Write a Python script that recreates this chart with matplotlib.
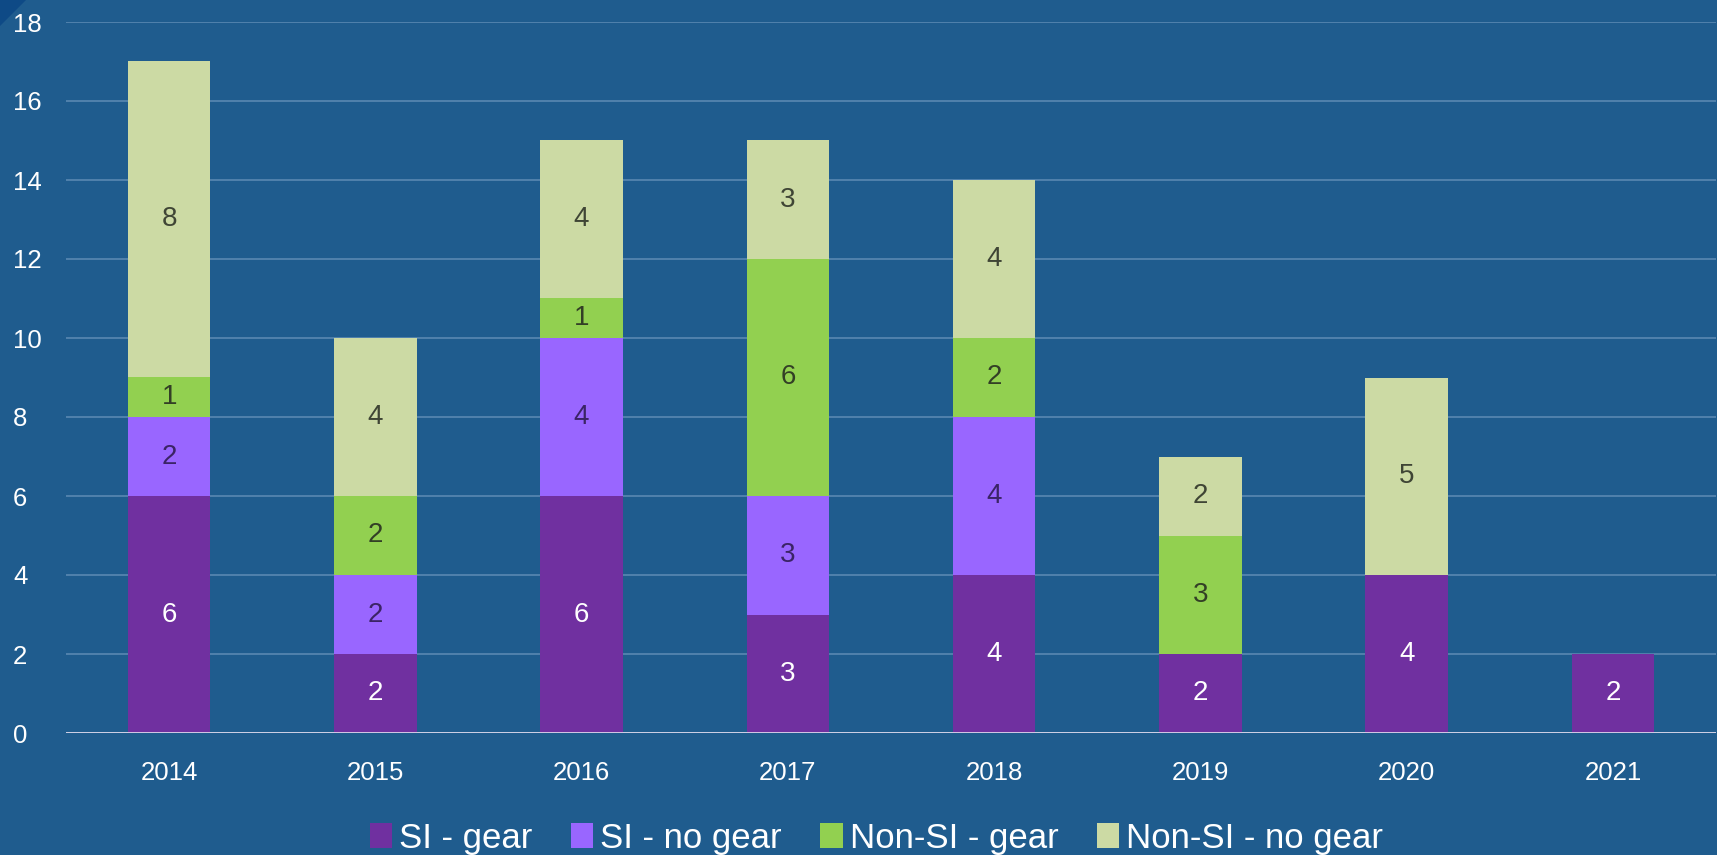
import numpy as np
import matplotlib.pyplot as plt
from matplotlib.patches import Polygon

years = ['2014', '2015', '2016', '2017', '2018', '2019', '2020', '2021']
si_gear = [6, 2, 6, 3, 4, 2, 4, 2]
si_no_gear = [2, 2, 4, 3, 4, 0, 0, 0]
nonsi_gear = [1, 2, 1, 6, 2, 3, 0, 0]
nonsi_no_gear = [8, 4, 4, 3, 4, 2, 5, 0]

series = [
    ('SI - gear', si_gear, '#7030A0', 'white'),
    ('SI - no gear', si_no_gear, '#9966FF', '#3B2466'),
    ('Non-SI - gear', nonsi_gear, '#92D050', '#333F26'),
    ('Non-SI - no gear', nonsi_no_gear, '#CCDAA4', '#3F4535'),
]

BG = '#1F5C8E'
plt.rcParams['font.family'] = ['Liberation Sans', 'DejaVu Sans']

fig = plt.figure(figsize=(17.17, 8.55), dpi=100, facecolor=BG)
ax = fig.add_axes([66 / 1717, 1 - 733 / 855, (1716 - 66) / 1717, (733 - 22) / 855])
ax.set_facecolor(BG)

# small decorative corner
fig.patches.append(Polygon([[0, 1], [26 / 1717, 1], [0, 1 - 26 / 855]], closed=True,
                           transform=fig.transFigure, facecolor='#0E4A86', edgecolor='none'))

x = np.arange(len(years))
bottom = np.zeros(len(years))
handles = []
for name, vals, col, tcol in series:
    vals = np.array(vals, dtype=float)
    b = ax.bar(x, vals, 0.4, bottom=bottom, color=col, label=name, zorder=3)
    handles.append(b)
    for xi, v, b0 in zip(x, vals, bottom):
        if v > 0:
            ax.text(xi, b0 + v / 2, f'{int(v)}', ha='center', va='center',
                    fontsize=20, color=tcol, zorder=4)
    bottom += vals

ax.set_xlim(-0.5, len(years) - 0.5)
ax.set_ylim(0, 18)
ax.set_yticks(range(0, 19, 2))
ax.set_xticks(x)
ax.set_xticklabels(years)
ax.tick_params(axis='both', length=0, colors='white', labelsize=18.5)
ax.tick_params(axis='x', pad=20)
ax.tick_params(axis='y', pad=38)
for lab in ax.get_yticklabels():
    lab.set_horizontalalignment('left')
ax.grid(axis='y', color='#5E8BB5', linewidth=1.1, zorder=0)
ax.axhline(0, color='#DCD8EC', linewidth=2, zorder=5)
for s in ax.spines.values():
    s.set_visible(False)

leg = fig.legend(handles=handles, loc='center', bbox_to_anchor=(0.5105, 1 - 838 / 855),
                 ncol=4, frameon=False, fontsize=25, labelcolor='white',
                 handlelength=0.65, handleheight=0.7, handletextpad=0.2, columnspacing=1.1)

fig.savefig('out.png', dpi=100, facecolor=BG)
